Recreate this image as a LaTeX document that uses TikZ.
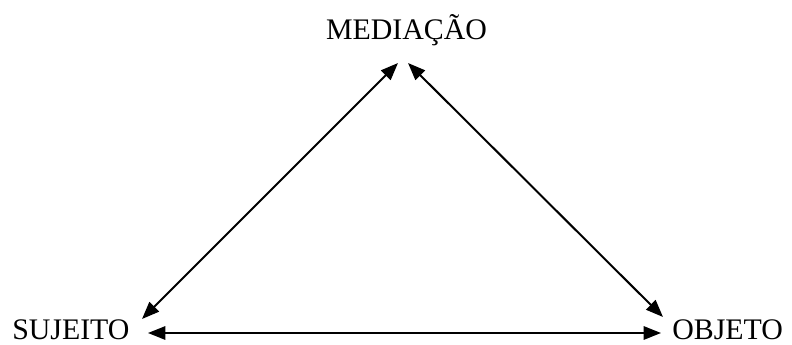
\documentclass[tikz,border=0pt]{standalone}
\usepackage{fontspec}
\setmainfont{Liberation Serif}
\usetikzlibrary{arrows.meta,positioning}

\begin{document}
\begin{tikzpicture}[
    x=0.75pt,y=0.75pt,
    every node/.style={font=\fontsize{22.4}{26}\selectfont,inner sep=0pt},
    arr/.style={{Triangle[length=13pt,width=10pt]}-{Triangle[length=13pt,width=10pt]},line width=1.5pt}
]
\useasboundingbox (0,0) rectangle (792,344);
\node[anchor=base] (med) at (406.5,304.5) {MEDIAÇÃO};
\node[anchor=base west] (suj) at (12,5) {SUJEITO};
\node[anchor=base west] (obj) at (672,4.5) {OBJETO};
% arrow tips
\coordinate (medL) at (398,281);
\coordinate (medR) at (408,281);
\coordinate (sujT) at (142,25);
\coordinate (sujR) at (148,11);
\coordinate (objT) at (663,27);
\coordinate (objL) at (661,11);
\draw[arr] (medL) -- (sujT);
\draw[arr] (medR) -- (objT);
\draw[arr] (sujR) -- (objL);
\end{tikzpicture}
\end{document}
